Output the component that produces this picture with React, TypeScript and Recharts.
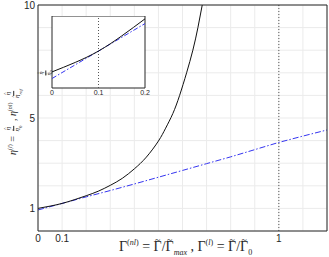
import { LineChart, Line, XAxis, YAxis, CartesianGrid, ReferenceLine, ReferenceArea } from 'recharts';

// main axes
const gridX = [0, 0.1, 0.2, 0.3, 0.4, 0.5, 0.6, 0.7, 0.8, 0.9, 1.0, 1.1, 1.2];
const gridY = [0, 1, 2, 3, 4, 5, 6, 7, 8, 9, 10];
const labelX = [0, 0.1, 1];
const labelY = [1, 5, 10];

// local model eta^(l)
const blackX = [0, 0.05, 0.1, 0.15, 0.2, 0.25, 0.3, 0.35, 0.4, 0.45, 0.5, 0.53, 0.56, 0.588, 0.617, 0.643, 0.664, 0.682];
const blackY = [1.0, 1.1, 1.22, 1.38, 1.56, 1.76, 2.02, 2.33, 2.75, 3.27, 3.98, 4.55, 5.2, 6.0, 7.0, 8.0, 9.0, 10.0];

// nonlocal model eta^(nl)
const blueX = [0, 0.1, 0.2, 0.3, 0.4, 0.5, 0.6, 0.7, 0.8, 0.9, 1.0, 1.1, 1.2];
const blueY = [0.93, 1.22, 1.51, 1.79, 2.08, 2.38, 2.68, 2.98, 3.28, 3.6, 3.92, 4.2, 4.47];

// inset
const insetTicks = [0, 0.1, 0.2];
const insetDomain = [0.83, 1.59];

const black = blackX.map((x, i) => ({ x, y: blackY[i] }));
const blue = blueX.map((x, i) => ({ x, y: blueY[i] }));
const blackInset = black.filter(d => d.x <= 0.2);
const blueInset = blue.filter(d => d.x <= 0.2);

const axisColor = '#262626';
const tickFont = { fontSize: 10, fill: axisColor, fontFamily: 'Liberation Sans, Arial, sans-serif' };
const serif = '"Liberation Serif", "DejaVu Serif", serif';

const fmt = (list: number[]) => (v: number) => (list.some(l => Math.abs(l - v) < 1e-9) ? String(v) : '');

// letter with an accent placed over it
const Acc = ({ ch, acc, top = -0.45 }: { ch: string; acc: string; top?: number }) => (
  <span style={{ position: 'relative', display: 'inline-block' }}>
    {ch}
    <span style={{ position: 'absolute', left: 0, right: 0, top: `${top}em`, textAlign: 'center', fontStyle: 'normal', fontSize: '0.7em', lineHeight: 1 }}>{acc}</span>
  </span>
);

const Frac = ({ num, den, size = 7 }: { num: any; den: any; size?: number }) => (
  <span style={{ display: 'inline-flex', flexDirection: 'column', alignItems: 'center', verticalAlign: 'middle', fontSize: size, lineHeight: 1.1, margin: '0 1px' }}>
    <span style={{ borderBottom: `0.6px solid ${axisColor}`, padding: '0 1px' }}>{num}</span>
    <span style={{ padding: '0 1px' }}>{den}</span>
  </span>
);

const App = () => {
  const sup = { fontSize: 8, lineHeight: 0 };
  return (
    <div style={{ position: 'absolute', left: 0, top: 0, width: 329, height: 257, background: '#fff', overflow: 'hidden' }}>
      <LineChart width={329} height={257} margin={{ top: 5, right: 2, bottom: 0, left: 0 }}>
        <CartesianGrid stroke="#ebebeb" strokeWidth={1} />
        <XAxis
          type="number"
          dataKey="x"
          domain={[0, 1.2]}
          ticks={gridX}
          interval={0}
          tickFormatter={fmt(labelX)}
          height={26}
          tickSize={3}
          tickMargin={1}
          tickLine={false}
          stroke={axisColor}
          tick={tickFont}
          allowDataOverflow
        />
        <XAxis xAxisId="bm" type="number" dataKey="x" domain={[0, 1.2]} ticks={gridX} interval={0} mirror tickSize={3} tickFormatter={() => ''} axisLine={false} stroke={axisColor} />
        <XAxis xAxisId="top" orientation="top" type="number" dataKey="x" domain={[0, 1.2]} ticks={gridX} interval={0} mirror tickSize={3} tickFormatter={() => ''} stroke={axisColor} />
        <YAxis
          type="number"
          domain={[0, 10]}
          ticks={gridY}
          interval={0}
          tickFormatter={fmt(labelY)}
          width={38}
          tickSize={2}
          tickMargin={1}
          tickLine={false}
          stroke={axisColor}
          tick={tickFont}
          allowDataOverflow
        />
        <YAxis yAxisId="lm" type="number" domain={[0, 10]} ticks={gridY} interval={0} mirror tickSize={3} tickFormatter={() => ''} axisLine={false} stroke={axisColor} />
        <YAxis yAxisId="right" orientation="right" type="number" domain={[0, 10]} ticks={gridY} interval={0} mirror tickSize={3} tickFormatter={() => ''} stroke={axisColor} />
        <ReferenceLine x={1} stroke="#555" strokeDasharray="1 2" />
        <Line data={blue} dataKey="y" type="linear" stroke="#3535f0" strokeWidth={1} strokeDasharray="6 2 1.5 2" dot={false} isAnimationActive={false} />
        <Line data={black} dataKey="y" type="natural" stroke="#111" strokeWidth={1} dot={false} isAnimationActive={false} />
      </LineChart>

      {/* inset */}
      <div style={{ position: 'absolute', left: 47, top: 16, width: 106, height: 82 }}>
        <LineChart width={106} height={82} margin={{ top: 0, right: 8, bottom: 0, left: 5 }}>
          <ReferenceArea x1={0} x2={0.2} y1={insetDomain[0]} y2={insetDomain[1]} fill="#fff" fillOpacity={1} stroke={axisColor} strokeWidth={1} />
          <XAxis
            type="number"
            dataKey="x"
            domain={[0, 0.2]}
            ticks={insetTicks}
            interval={0}
            height={10}
            tickSize={1}
            tickMargin={1}
            tickLine={false}
            axisLine={false}
            tick={{ ...tickFont, fontSize: 7 }}
            allowDataOverflow
          />
          <YAxis type="number" domain={insetDomain} hide allowDataOverflow />
          <ReferenceLine x={0.1} stroke="#555" strokeDasharray="1 2" />
          <Line data={blueInset} dataKey="y" type="linear" stroke="#3535f0" strokeWidth={1} strokeDasharray="5 2 1.5 2" dot={false} isAnimationActive={false} />
          <Line data={blackInset} dataKey="y" type="natural" stroke="#111" strokeWidth={1} dot={false} isAnimationActive={false} />
        </LineChart>
      </div>
      <div style={{ position: 'absolute', left: 46, top: 73, transform: 'translate(-50%, -50%) rotate(-90deg)', fontFamily: serif, fontStyle: 'italic', color: axisColor, whiteSpace: 'nowrap', lineHeight: 1 }}>
        <Frac num={<Acc ch="η" acc="^" top={-0.3} />} den={<span><Acc ch="η" acc="^" top={-0.3} /><sub style={{ fontSize: 4 }}>0</sub></span>} size={6} />
      </div>

      {/* axis labels */}
      <div style={{ position: 'absolute', left: 14, top: 121, transform: 'translate(-50%, -50%) rotate(-90deg)', fontFamily: serif, fontSize: 10, color: axisColor, whiteSpace: 'nowrap' }}>
        <i>η</i><sup style={{ fontSize: 6 }}>(<i>l</i>)</sup> = <Frac num={<i><Acc ch="η" acc="^" top={-0.3} /></i>} den={<span><i><Acc ch="η" acc="^" top={-0.3} /></i><sub style={{ fontSize: 5 }}>0</sub></span>} /> ,{' '}
        <i>η</i><sup style={{ fontSize: 6 }}>(<i>nl</i>)</sup> <Frac num={<i><Acc ch="η" acc="^" top={-0.3} /></i>} den={<span><i><Acc ch="η" acc="^" top={-0.3} /></i><sub style={{ fontSize: 5 }}><i>ref</i></sub></span>} />
      </div>
      <div style={{ position: 'absolute', left: 119, top: 240, fontFamily: serif, fontSize: 14, color: axisColor, whiteSpace: 'nowrap', lineHeight: '13px' }}>
        Γ<sup style={sup}>(<i>nl</i>)</sup> = <Acc ch="Γ" acc="~" top={-0.5} />/<Acc ch="Γ" acc="~" top={-0.5} /><sub style={sup}><i>max</i></sub> , Γ<sup style={sup}>(<i>l</i>)</sup> = <Acc ch="Γ" acc="~" top={-0.5} />/<Acc ch="Γ" acc="~" top={-0.5} /><sub style={sup}>0</sub>
      </div>
    </div>
  );
};

export default App;
